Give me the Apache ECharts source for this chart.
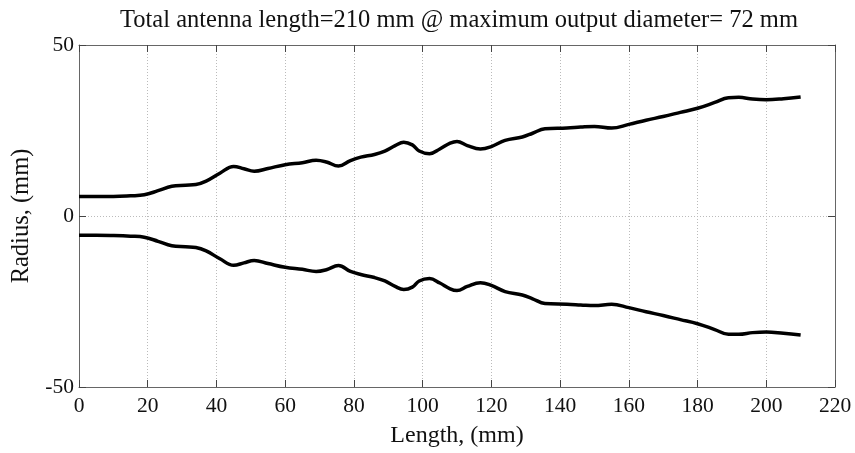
<!DOCTYPE html>
<html>
<head>
<meta charset="utf-8">
<script src="https://cdn.jsdelivr.net/npm/echarts@6/dist/echarts.min.js"></script>
<style>html,body{margin:0;padding:0;background:#fff}#c{width:855px;height:453px}</style>
</head>
<body>
<div id="c"></div>
<script>
const titleText = 'Total antenna length=210 mm @ maximum output diameter= 72 mm';
const xTicks = [0, 20, 40, 60, 80, 100, 120, 140, 160, 180, 200, 220];
const yTicks = [-50, 0, 50];
const lengths = [0, 5, 10, 15, 19, 23, 27, 31, 34, 37, 41, 45, 48, 51, 55, 60, 65, 69, 72, 75.5, 79, 82, 86, 89, 92, 94.5, 97, 99, 102, 105, 108, 110, 113, 116.8, 120, 124, 129, 132, 135.6, 142, 146, 150, 155, 160, 165, 170, 175, 180, 185, 189, 192, 196, 200, 205, 210];
const upperRadius = [5.7, 5.7, 5.7, 5.9, 6.2, 7.4, 8.7, 9.0, 9.2, 10.2, 12.5, 14.5, 13.8, 13.1, 13.9, 15.0, 15.6, 16.3, 15.8, 14.6, 16.2, 17.2, 18.0, 19.0, 20.6, 21.6, 20.8, 19.0, 18.2, 19.6, 21.3, 21.8, 20.6, 19.6, 20.3, 22.1, 23.1, 24.2, 25.5, 25.7, 26.0, 26.2, 25.7, 26.8, 28.0, 29.1, 30.3, 31.5, 33.2, 34.6, 34.7, 34.2, 34.0, 34.3, 34.8];
const lowerRadius = [-5.6, -5.6, -5.7, -5.9, -6.2, -7.4, -8.7, -9.0, -9.2, -10.2, -12.5, -14.4, -13.7, -13.0, -13.9, -15.0, -15.6, -16.2, -15.7, -14.5, -16.2, -17.1, -18.0, -19.0, -20.6, -21.5, -20.8, -19.0, -18.3, -19.6, -21.3, -21.8, -20.6, -19.5, -20.3, -22.1, -23.1, -24.2, -25.6, -25.8, -26.0, -26.2, -25.8, -26.8, -28.0, -29.1, -30.3, -31.5, -33.2, -34.6, -34.6, -34.1, -33.9, -34.3, -34.8];

const font = 'Liberation Serif';
const upper = lengths.map((x, i) => [x, upperRadius[i]]);
const lower = lengths.map((x, i) => [x, lowerRadius[i]]);

const chart = echarts.init(document.getElementById('c'), null, {renderer: 'canvas'});
const frame = {show: true, onZero: false, lineStyle: {color: '#666', width: 1}};
const tickIn = {show: true, inside: true, length: 7, lineStyle: {color: '#444'}};
chart.setOption({
  animation: false,
  backgroundColor: '#fff',
  title: {
    text: titleText, left: 454, top: 3, textAlign: 'center',
    textStyle: {fontFamily: font, fontSize: 24.5, fontWeight: 'normal', color: '#111'}
  },
  grid: {left: 79, right: 20, top: 45, bottom: 64, containLabel: false},
  xAxis: [{
    type: 'value', min: xTicks[0], max: xTicks[xTicks.length - 1], interval: 20,
    position: 'bottom',
    name: 'Length, (mm)', nameLocation: 'middle', nameGap: 37,
    nameTextStyle: {fontFamily: font, fontSize: 24, color: '#111'},
    axisLine: frame, axisTick: tickIn,
    axisLabel: {fontFamily: font, fontSize: 21.5, color: '#111', margin: 8},
    splitLine: {show: true, lineStyle: {color: '#bbb', type: [1, 2], width: 1}}
  }, {
    type: 'value', min: xTicks[0], max: xTicks[xTicks.length - 1], interval: 20,
    position: 'top', axisLine: frame, axisTick: tickIn,
    axisLabel: {show: false}, splitLine: {show: false}
  }],
  yAxis: [{
    type: 'value', min: yTicks[0], max: yTicks[yTicks.length - 1], interval: 50,
    position: 'left',
    name: 'Radius, (mm)', nameLocation: 'middle', nameGap: 44, nameRotate: 90,
    nameTextStyle: {fontFamily: font, fontSize: 24.5, color: '#111'},
    axisLine: frame, axisTick: tickIn,
    axisLabel: {fontFamily: font, fontSize: 21.5, color: '#111', margin: 5},
    splitLine: {show: true, lineStyle: {color: '#bbb', type: [1, 2], width: 1}}
  }, {
    type: 'value', min: yTicks[0], max: yTicks[yTicks.length - 1], interval: 50,
    position: 'right', axisLine: frame, axisTick: tickIn,
    axisLabel: {show: false}, splitLine: {show: false}
  }],
  series: [{
    type: 'line', data: upper, smooth: 0.4, showSymbol: false,
    lineStyle: {color: '#000', width: 3.5}
  }, {
    type: 'line', data: lower, smooth: 0.4, showSymbol: false,
    lineStyle: {color: '#000', width: 3.5}
  }]
});
</script>
</body>
</html>
